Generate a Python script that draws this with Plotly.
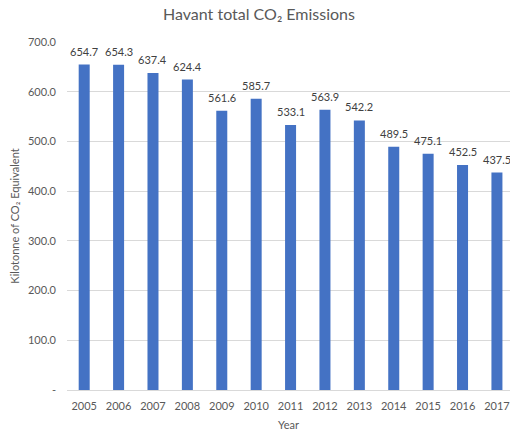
import plotly.graph_objects as go

years = ["2005", "2006", "2007", "2008", "2009", "2010", "2011", "2012", "2013", "2014", "2015", "2016", "2017"]
emissions = [654.7, 654.3, 637.4, 624.4, 561.6, 585.7, 533.1, 563.9, 542.2, 489.5, 475.1, 452.5, 437.5]
y_tick_vals = [0, 100, 200, 300, 400, 500, 600, 700]
y_tick_text = ["-", "100.0", "200.0", "300.0", "400.0", "500.0", "600.0", "700.0"]

font_family = "Lato, 'Open Sans', sans-serif"

fig = go.Figure(go.Bar(
    x=years,
    y=emissions,
    marker=dict(color="#4472C4", line=dict(width=0)),
    width=0.32,
))

for i, v in enumerate(emissions):
    fig.add_annotation(
        x=i, y=v, text=f"{v:.1f}", showarrow=False,
        yanchor="bottom", yshift=5,
        font=dict(size=11, color="#404040", family=font_family),
    )

fig.update_layout(
    width=502, height=426,
    margin=dict(l=59, r=0, t=34, b=44, pad=0),
    paper_bgcolor="white", plot_bgcolor="white",
    font=dict(family=font_family, color="#595959", size=11),
    title=dict(text="Havant total CO₂ Emissions", x=0.5, xanchor="center", y=1, yanchor="top",
               pad=dict(t=1),
               font=dict(size=16, color="#595959", family=font_family)),
    showlegend=False,
    bargap=0.68,
)
fig.update_xaxes(
    type="category", range=[-0.5, len(years) - 0.62],
    showgrid=False, showline=True, linecolor="#D9D9D9", linewidth=1,
    ticks="", tickfont=dict(size=11, color="#595959"), ticklabelstandoff=6,
    title=dict(text="Year", font=dict(size=11, color="#595959"), standoff=10),
    automargin=False,
)
fig.update_yaxes(
    range=[0, 700], tickvals=y_tick_vals, ticktext=y_tick_text,
    showgrid=True, gridcolor="#D9D9D9", gridwidth=1, zeroline=False, showline=False,
    ticks="", tickfont=dict(size=11, color="#595959"), ticklabelstandoff=10,
    title=dict(text="Kilotonne of CO₂ Equivalent", font=dict(size=11, color="#595959"), standoff=11),
)

fig.write_html("out.html", config={"displayModeBar": False})
